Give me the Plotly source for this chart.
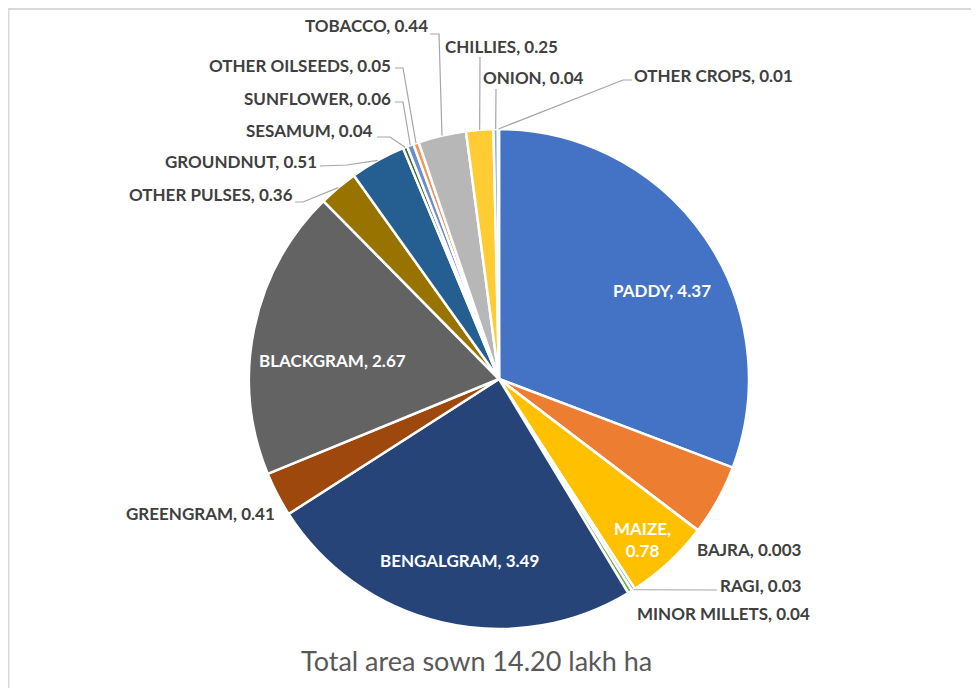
import math
import plotly.graph_objects as go

# ---------------- data ----------------
crops = ["PADDY", "JOWAR", "BAJRA", "MAIZE", "RAGI", "MINOR MILLETS",
         "BENGALGRAM", "GREENGRAM", "BLACKGRAM", "OTHER PULSES",
         "GROUNDNUT", "SESAMUM", "SUNFLOWER", "OTHER OILSEEDS",
         "TOBACCO", "CHILLIES", "ONION", "OTHER CROPS"]
area_lakh_ha = [4.37, 0.65, 0.003, 0.78, 0.03, 0.04,
                3.49, 0.41, 2.67, 0.36,
                0.51, 0.04, 0.06, 0.05,
                0.44, 0.25, 0.04, 0.01]
value_labels = ["4.37", "0.65", "0.003", "0.78", "0.03", "0.04",
                "3.49", "0.41", "2.67", "0.36",
                "0.51", "0.04", "0.06", "0.05",
                "0.44", "0.25", "0.04", "0.01"]
chart_title = "Total area sown 14.20 lakh ha"

# ---------------- style / layout ----------------
slice_colors = ["#4472C4", "#ED7D31", "#A5A5A5", "#FFC000", "#5B9BD5", "#70AD47",
                "#264478", "#9E480E", "#636363", "#997300",
                "#255E91", "#43682B", "#698ED0", "#F1975A",
                "#B7B7B7", "#FFCD33", "#7CAFDD", "#8CC168"]

W, H = 979, 688
OFF = 8                              # page body margin of the html page
CX, CY, R = 499, 379, 250            # pie centre / radius in page pixels
FONT = "Lato"
LBL_SIZE = 17
LBL_COLOR = "#404040"
LEADER = "#A6A6A6"

# inside labels: page-pixel position of label centre
inside_pos = {
    "PADDY": (662, 290),
    "BLACKGRAM": (332, 360),
    "BENGALGRAM": (459, 560),
    "MAIZE": (642, 539),
}
# outside labels: text anchor (px), xanchor, leader polyline points before the slice edge
outside_pos = {
    "TOBACCO": (428, 25, "right", [(430, 34), (439, 34)]),
    "CHILLIES": (445, 47, "left", [(480, 57)]),
    "ONION": (483, 78, "left", [(496, 89)]),
    "OTHER CROPS": (634, 75, "left", [(632, 80), (623, 80)]),
    "OTHER OILSEEDS": (391, 65, "right", [(395, 68), (403, 68)]),
    "SUNFLOWER": (391, 98.5, "right", [(395, 102), (403, 102)]),
    "SESAMUM": (373, 131, "right", [(377, 137), (390, 137)]),
    "GROUNDNUT": (317, 161, "right", [(320, 166), (347, 165)]),
    "OTHER PULSES": (293, 195, "right", [(295, 202), (303, 202)]),
    "GREENGRAM": (275, 513, "right", []),
    "BAJRA": (697, 549, "left", []),
    "RAGI": (720, 585, "left", [(717, 590)]),
    "MINOR MILLETS": (637, 613, "left", []),
}


def px2paper(x, y):
    return (x - OFF) / W, 1 - (y - OFF) / H


fig = go.Figure()
fig.add_trace(go.Pie(
    labels=crops,
    values=area_lakh_ha,
    sort=False,
    direction="clockwise",
    rotation=0,
    textinfo="none",
    hoverinfo="label+value",
    marker=dict(colors=slice_colors, line=dict(color="white", width=2.5)),
    showlegend=False,
    domain=dict(x=[(CX - OFF - R) / W, (CX - OFF + R) / W],
                y=[(H - (CY - OFF) - R) / H, (H - (CY - OFF) + R) / H]),
))

# slice mid-angle anchors computed from the data
total = sum(area_lakh_ha)
anchors = {}
cum = 0.0
for name, v in zip(crops, area_lakh_ha):
    mid = (cum + v / 2) / total * 2 * math.pi
    anchors[name] = (CX + R * math.sin(mid), CY - R * math.cos(mid))
    cum += v

annotations = []
shapes = []

for name, (x, y) in inside_pos.items():
    i = crops.index(name)
    txt = f"{name},<br>{value_labels[i]}" if name == "MAIZE" else f"{name}, {value_labels[i]}"
    px, py = px2paper(x, y)
    annotations.append(dict(x=px, y=py, xref="paper", yref="paper", text=f"<b>{txt}</b>",
                            showarrow=False, xanchor="center", yanchor="middle",
                            font=dict(family=FONT, size=LBL_SIZE, color="white"),
                            borderpad=0, borderwidth=0))

for name, (x, y, xa, pts) in outside_pos.items():
    i = crops.index(name)
    px, py = px2paper(x, y)
    annotations.append(dict(x=px, y=py, xref="paper", yref="paper",
                            text=f"<b>{name}, {value_labels[i]}</b>",
                            showarrow=False, xanchor=xa, yanchor="middle",
                            font=dict(family=FONT, size=LBL_SIZE, color=LBL_COLOR),
                            borderpad=0, borderwidth=0))
    if pts:
        allpts = pts + [anchors[name]]
        path = ""
        for k, (lx, ly) in enumerate(allpts):
            qx, qy = px2paper(lx, ly)
            path += ("M" if k == 0 else " L") + f" {qx:.5f},{qy:.5f}"
        shapes.append(dict(type="path", path=path, xref="paper", yref="paper",
                           line=dict(color=LEADER, width=1.2)))

# title under the pie
tx, ty = px2paper(476, 660)
annotations.append(dict(x=tx, y=ty, xref="paper", yref="paper", text=chart_title,
                        showarrow=False, xanchor="center", yanchor="middle",
                        font=dict(family=FONT, size=27, color="#595959")))

# light frame (top and left edges visible)
shapes.append(dict(type="line", xref="paper", yref="paper",
                   x0=0, x1=1.0, y0=1 - 1 / H, y1=1 - 1 / H,
                   line=dict(color="#D9D9D9", width=2)))
shapes.append(dict(type="line", xref="paper", yref="paper",
                   x0=0.5 / W, x1=0.5 / W, y0=1, y1=0,
                   line=dict(color="#D9D9D9", width=2)))

fig.update_layout(
    width=W, height=H,
    margin=dict(l=0, r=0, t=0, b=0),
    paper_bgcolor="white", plot_bgcolor="white",
    annotations=annotations,
    shapes=shapes,
    font=dict(family=FONT),
)

fig.write_html("out.html")
